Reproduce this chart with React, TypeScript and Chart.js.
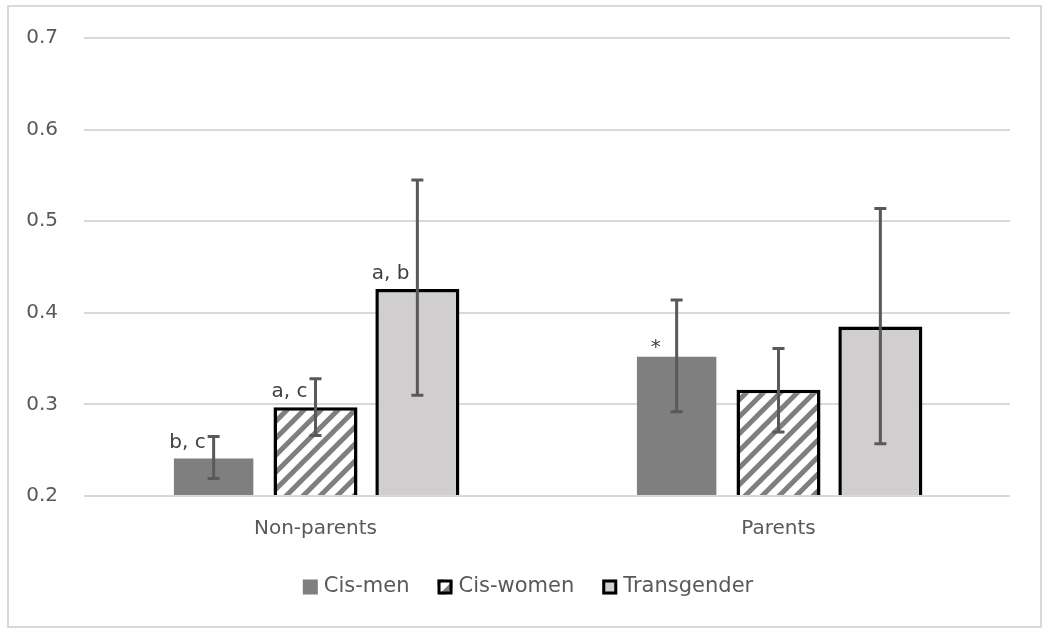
import { useEffect, useRef } from "react";
import { Chart, registerables } from "chart.js";

Chart.register(...registerables);

const categories = ["Non-parents", "Parents"];
const seriesNames = ["Cis-men", "Cis-women", "Transgender"];

const cisMenMean = [0.241, 0.352];
const cisMenLow = [0.219, 0.292];
const cisMenHigh = [0.265, 0.414];

const cisWomenMean = [0.297, 0.316];
const cisWomenLow = [0.266, 0.270];
const cisWomenHigh = [0.328, 0.361];

const transMean = [0.426, 0.385];
const transLow = [0.310, 0.257];
const transHigh = [0.545, 0.514];

const cisMenNotes = ["b, c", "*"];
const cisWomenNotes = ["a, c", ""];
const transNotes = ["a, b", ""];

const yMin = 0.2;
const yMax = 0.7;
const yStep = 0.1;

const FONT = "'DejaVu Sans', sans-serif";
const TEXT = "#595959";

function makeStripePattern(): CanvasPattern | string {
  const s = 17;
  const c = document.createElement("canvas");
  c.width = s;
  c.height = s;
  const g = c.getContext("2d");
  if (!g) return "#ffffff";
  g.fillStyle = "#ffffff";
  g.fillRect(0, 0, s, s);
  g.strokeStyle = "#7f7f7f";
  g.lineWidth = 5;
  g.beginPath();
  g.moveTo(-s / 2, s / 2);
  g.lineTo(s / 2, -s / 2);
  g.moveTo(0, s);
  g.lineTo(s, 0);
  g.moveTo(s / 2, (3 * s) / 2);
  g.lineTo((3 * s) / 2, s / 2);
  g.stroke();
  const p = g.createPattern(c, "repeat");
  return p || "#ffffff";
}

export default function App() {
  const ref = useRef<HTMLCanvasElement | null>(null);

  useEffect(() => {
    document.body.style.margin = "0";
    const canvas = ref.current;
    if (!canvas) return;
    const stripe = makeStripePattern();

    const lows = [cisMenLow, cisWomenLow, transLow];
    const highs = [cisMenHigh, cisWomenHigh, transHigh];
    const notes = [cisMenNotes, cisWomenNotes, transNotes];
    const legendFills: any[] = ["#7f7f7f", stripe, "#d0cece"];
    const legendBorders = [0, 3, 3];

    const framePlugin = {
      id: "frame",
      beforeDraw(chart: any) {
        const ctx = chart.ctx;
        ctx.save();
        ctx.fillStyle = "#ffffff";
        ctx.fillRect(0, 0, chart.width, chart.height);
        ctx.strokeStyle = "#d9d9d9";
        ctx.lineWidth = 2;
        ctx.strokeRect(8, 6, 1033, 621);
        ctx.restore();
      },
    };

    const errorPlugin = {
      id: "errbars",
      afterDatasetsDraw(chart: any) {
        const ctx = chart.ctx;
        const y = chart.scales.y;
        ctx.save();
        chart.data.datasets.forEach((_ds: any, i: number) => {
          const meta = chart.getDatasetMeta(i);
          meta.data.forEach((el: any, j: number) => {
            const x = el.x;
            const yl = y.getPixelForValue(lows[i][j]);
            const yh = y.getPixelForValue(highs[i][j]);
            ctx.strokeStyle = "#595959";
            ctx.lineWidth = 3;
            ctx.beginPath();
            ctx.moveTo(x, yl);
            ctx.lineTo(x, yh);
            ctx.moveTo(x - 6, yl);
            ctx.lineTo(x + 6, yl);
            ctx.moveTo(x - 6, yh);
            ctx.lineTo(x + 6, yh);
            ctx.stroke();
            const note = notes[i][j];
            if (note) {
              ctx.fillStyle = "#404040";
              ctx.font = "20px " + FONT;
              ctx.textAlign = "right";
              ctx.textBaseline = "alphabetic";
              if (note === "*") {
                ctx.fillText(note, x - 16, el.y - 4);
              } else {
                ctx.fillText(note, x - 8, el.y - 10);
              }
            }
          });
        });
        ctx.restore();
      },
    };

    const legendPlugin = {
      id: "customLegend",
      afterDraw(chart: any) {
        const ctx = chart.ctx;
        ctx.save();
        ctx.font = "21px " + FONT;
        const box = 15;
        const gapBoxText = 6;
        const gapItems = 28;
        const widths = seriesNames.map((n) => ctx.measureText(n).width);
        const total =
          widths.reduce((a, b) => a + b, 0) +
          seriesNames.length * (box + gapBoxText) +
          (seriesNames.length - 1) * gapItems;
        let x = 528 - total / 2;
        const cy = 587;
        seriesNames.forEach((name, i) => {
          ctx.fillStyle = legendFills[i];
          ctx.fillRect(x, cy - box / 2, box, box);
          if (legendBorders[i]) {
            ctx.strokeStyle = "#000000";
            ctx.lineWidth = legendBorders[i];
            ctx.strokeRect(x + 1.5, cy - box / 2 + 1.5, box - 3, box - 3);
          }
          ctx.fillStyle = TEXT;
          ctx.textAlign = "left";
          ctx.textBaseline = "middle";
          ctx.fillText(name, x + box + gapBoxText, cy);
          x += box + gapBoxText + widths[i] + gapItems;
        });
        ctx.restore();
      },
    };

    const chart = new Chart(canvas, {
      type: "bar",
      data: {
        labels: categories,
        datasets: [
          {
            label: seriesNames[0],
            data: cisMenMean,
            backgroundColor: "#7f7f7f",
            borderWidth: 0,
            barPercentage: 0.78,
            base: yMin,
          },
          {
            label: seriesNames[1],
            data: cisWomenMean,
            backgroundColor: stripe as any,
            borderColor: "#000000",
            borderWidth: 3.5,
            barPercentage: 0.825,
            base: yMin,
          },
          {
            label: seriesNames[2],
            data: transMean,
            backgroundColor: "#d0cece",
            borderColor: "#000000",
            borderWidth: 3.5,
            barPercentage: 0.825,
            base: yMin,
          },
        ],
      },
      options: {
        responsive: false,
        animation: false,
        categoryPercentage: 0.66,
        layout: { padding: { left: 0, right: 40, top: 38, bottom: 0 } },
        plugins: {
          legend: { display: false },
          tooltip: { enabled: false },
        },
        scales: {
          x: {
            grid: { display: false, drawTicks: false },
            border: { display: false },
            ticks: {
              font: { family: FONT, size: 20 },
              color: TEXT,
              padding: 21,
            },
            afterFit(axis: any) {
              axis.height = 138;
            },
          },
          y: {
            min: yMin,
            max: yMax,
            grid: { color: "#d9d9d9", lineWidth: 2, drawTicks: false },
            border: { display: false },
            ticks: {
              stepSize: yStep,
              font: { family: FONT, size: 20 },
              color: TEXT,
              padding: 26,
              callback: (v: any) => Number(v).toFixed(1),
            },
            afterFit(axis: any) {
              axis.width = 84;
            },
          },
        },
      },
      plugins: [framePlugin, errorPlugin, legendPlugin],
    } as any);

    return () => chart.destroy();
  }, []);

  return (
    <canvas
      ref={ref}
      width={1050}
      height={634}
      style={{ display: "block", width: 1050, height: 634 }}
    />
  );
}
